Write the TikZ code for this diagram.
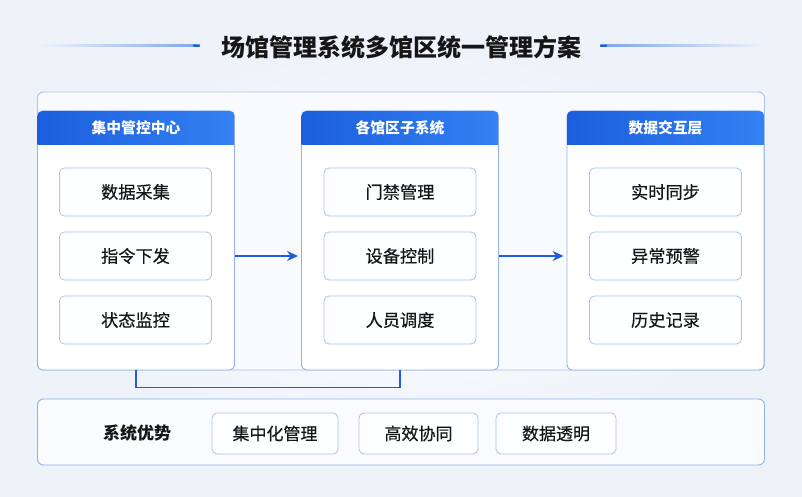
\documentclass[tikz,border=0pt]{standalone}
\usepackage{fontspec}
\setmainfont{Noto Sans CJK SC}
\newfontfamily\cjkmed{Noto Sans CJK SC}[FakeBold=0.35]
\usetikzlibrary{arrows.meta,calc}
\definecolor{bgc}{HTML}{EEF3FA}
\definecolor{outerb}{HTML}{A9C3EC}
\definecolor{colb}{HTML}{8FB1EA}
\definecolor{hdrl}{HTML}{1C5EDD}
\definecolor{hdrr}{HTML}{3381F2}
\definecolor{itemb}{HTML}{A8C3EE}
\definecolor{itemf}{HTML}{FDFEFF}
\definecolor{arrc}{HTML}{1B5FE0}
\definecolor{txt}{HTML}{161616}
\tikzset{
  colbox/.style={draw=colb, line width=0.9pt, fill=white, rounded corners=5pt,
    minimum width=197pt, minimum height=259pt, inner sep=0pt},
  hdrtext/.style={text=white, font=\fontsize{14.8}{16}\selectfont\bfseries, inner sep=0pt},
  itembox/.style={draw=itemb, line width=0.8pt, fill=itemf, rounded corners=5pt,
    minimum width=152pt, minimum height=48pt, inner sep=0pt, text=txt,
    font=\cjkmed\fontsize{17.2}{19}\selectfont},
  advbox/.style={draw=itemb, line width=0.8pt, fill=itemf, rounded corners=5pt,
    minimum height=41pt, inner sep=0pt, text=txt, font=\cjkmed\fontsize{17}{19}\selectfont},
  flowarr/.style={draw=arrc, line width=1.5pt, -{Stealth[length=11pt,width=10pt]}},
  linkline/.style={draw=arrc, line width=1.5pt},
}
\begin{document}
\begin{tikzpicture}[x=1pt,y=-1pt]
\useasboundingbox (0,0) rectangle (802,497);
\fill[bgc] (0,0) rectangle (802,497);
\shade[inner color=white, outer color=bgc] (40,50) rectangle (762,450);

% title
\node[text=txt, font=\fontsize{24}{27}\selectfont\bfseries, inner sep=0pt] (title) at (401,47) {场馆管理系统多馆区统一管理方案};
\shade[left color=bgc, right color=arrc!55] (38,45) rectangle (196,46.2);
\fill[arrc, rounded corners=0.8pt] (193,44.3) rectangle (200,47);
\shade[left color=arrc!55, right color=bgc] (606,45) rectangle (765,46.2);
\fill[arrc, rounded corners=0.8pt] (600,44.3) rectangle (607,47);

% outer container
\draw[outerb, line width=0.9pt, fill=white!60!bgc, rounded corners=6pt] (37.5,92) rectangle (764.5,370);

% columns
\node[colbox] (c1) at (136,240.5) {};
\node[colbox] (c2) at (400,240.5) {};
\node[colbox] (c3) at (665.5,240.5) {};
\foreach \c in {c1,c2,c3}{
  \begin{scope}
    \clip ($(\c.north west)+(0,0)$) rectangle ($(\c.north east)+(0,34)$);
    \shade[left color=hdrl, right color=hdrr, rounded corners=5pt]
      ($(\c.north west)+(0.45,0.45)$) rectangle ($(\c.north east)+(-0.45,50)$);
  \end{scope}
}
\node[hdrtext] (h1) at ($(c1.north)+(0,17)$) {集中管控中心};
\node[hdrtext] (h2) at ($(c2.north)+(0,17)$) {各馆区子系统};
\node[hdrtext] (h3) at ($(c3.north)+(0,17)$) {数据交互层};

% items
\node[itembox] (a1) at (135.5,192) {数据采集};
\node[itembox] (a2) at (135.5,256) {指令下发};
\node[itembox] (a3) at (135.5,320) {状态监控};
\node[itembox] (b1) at (400,192) {门禁管理};
\node[itembox] (b2) at (400,256) {设备控制};
\node[itembox] (b3) at (400,320) {人员调度};
\node[itembox] (d1) at (665.5,192) {实时同步};
\node[itembox] (d2) at (665.5,256) {异常预警};
\node[itembox] (d3) at (665.5,320) {历史记录};

% arrows
\draw[flowarr] (c1.east |- a2) -- ([xshift=-3pt]c2.west |- b2);
\draw[flowarr] (c2.east |- b2) -- ([xshift=-3pt]c3.west |- d2);

% link
\draw[linkline] (c1.south) -- ++(0,17) -| (c2.south);

% bottom box
\node[draw=colb, line width=0.9pt, fill=white!70!bgc, rounded corners=6pt,
  minimum width=727pt, minimum height=66pt, inner sep=0pt] (bot) at (401,432) {};
\node[text=txt, font=\fontsize{17}{19}\selectfont\bfseries, inner sep=0pt] (adv) at (137,433) {系统优势};
\node[advbox, minimum width=126pt] (e1) at (275,433.5) {集中化管理};
\node[advbox, minimum width=119pt] (e2) at (418.5,433.5) {高效协同};
\node[advbox, minimum width=120pt] (e3) at (556,433.5) {数据透明};
\end{tikzpicture}
\end{document}
